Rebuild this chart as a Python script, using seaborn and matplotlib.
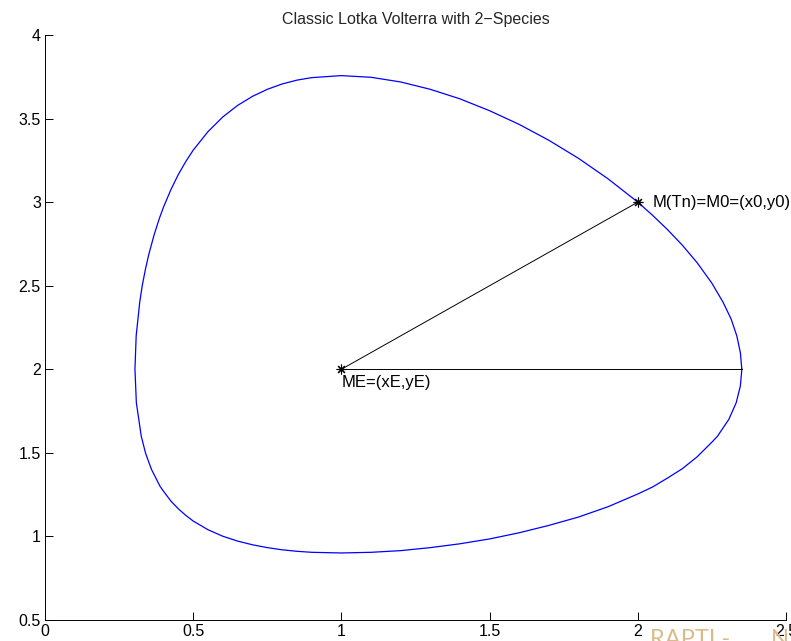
import matplotlib
matplotlib.use("Agg")
import matplotlib.pyplot as plt
import seaborn as sns
import pandas as pd

# Closed predator-prey orbit around the equilibrium (prey x, predator y)
orbit_x = [2.351, 2.346, 2.334, 2.315, 2.288, 2.25, 2.2, 2.15, 2.1, 2.05, 2.0,
           1.9, 1.8, 1.7, 1.6, 1.5, 1.4, 1.3, 1.2, 1.1, 1.0, 0.9, 0.85, 0.8,
           0.75, 0.7, 0.65, 0.6, 0.55, 0.5, 0.475, 0.45, 0.425, 0.4, 0.3853,
           0.3674, 0.35, 0.339, 0.328, 0.3195, 0.3076, 0.3035, 0.3082, 0.3247,
           0.339, 0.35, 0.3595, 0.388, 0.4, 0.425, 0.45, 0.475, 0.5, 0.55, 0.6,
           0.65, 0.7, 0.75, 0.8, 0.85, 0.9, 1.0, 1.1, 1.2, 1.3, 1.4, 1.5, 1.6,
           1.7, 1.8, 1.9, 2.0, 2.05, 2.1, 2.15, 2.2, 2.25, 2.269, 2.307, 2.332,
           2.346, 2.351]
orbit_y = [2.0, 2.1, 2.2, 2.3, 2.4, 2.515, 2.638, 2.743, 2.836, 2.921, 3.0,
           3.139, 3.262, 3.37, 3.465, 3.547, 3.618, 3.675, 3.719, 3.747, 3.757,
           3.745, 3.73, 3.707, 3.675, 3.633, 3.579, 3.51, 3.422, 3.311, 3.243,
           3.166, 3.076, 2.971, 2.9, 2.8, 2.686, 2.6, 2.5, 2.4, 2.2, 2.0, 1.8,
           1.6, 1.5, 1.445, 1.4, 1.3, 1.27, 1.211, 1.165, 1.126, 1.092, 1.04,
           1.001, 0.972, 0.95, 0.933, 0.92, 0.911, 0.905, 0.901, 0.905, 0.915,
           0.933, 0.956, 0.985, 1.022, 1.066, 1.116, 1.178, 1.254, 1.296, 1.349,
           1.405, 1.476, 1.564, 1.6, 1.7, 1.8, 1.9, 2.0]

# Equilibrium point ME and starting point M0
equilibrium = (1.0, 2.0)
start_point = (2.0, 3.0)
# Orbit's rightmost crossing of the horizontal through ME
right_crossing = (2.351, 2.0)

x_ticks = [0, 0.5, 1, 1.5, 2, 2.5]
y_ticks = [0.5, 1, 1.5, 2, 2.5, 3, 3.5, 4]
x_tick_labels = ["0", "0.5", "1", "1.5", "2", "2.5"]
y_tick_labels = ["0.5", "1", "1.5", "2", "2.5", "3", "3.5", "4"]

sns.set_theme(style="white")
plt.rcParams["font.family"] = ["Liberation Sans", "DejaVu Sans"]

fig = plt.figure(figsize=(7.91, 6.41), dpi=100)
ax = fig.add_axes([45 / 791, 21 / 641, 741 / 791, 585 / 641])

orbit = pd.DataFrame({"x": orbit_x, "y": orbit_y})
sns.lineplot(data=orbit, x="x", y="y", sort=False, estimator=None,
             color=(0, 0, 1), linewidth=0.9, ax=ax)

# Radius ME -> M0 and horizontal ME -> orbit
seg1 = pd.DataFrame({"x": [equilibrium[0], start_point[0]],
                     "y": [equilibrium[1], start_point[1]]})
seg2 = pd.DataFrame({"x": [equilibrium[0], right_crossing[0]],
                     "y": [equilibrium[1], right_crossing[1]]})
sns.lineplot(data=seg1, x="x", y="y", sort=False, estimator=None,
             color="black", linewidth=0.7, ax=ax)
sns.lineplot(data=seg2, x="x", y="y", sort=False, estimator=None,
             color="black", linewidth=0.7, ax=ax)

pts = pd.DataFrame({"x": [equilibrium[0], start_point[0]],
                    "y": [equilibrium[1], start_point[1]]})
ax.plot(pts["x"], pts["y"], linestyle="none", marker=(8, 2, 0),
        markersize=7, markeredgewidth=0.8, color="black")

ax.text(start_point[0] + 0.05, start_point[1], "M(Tn)=M0=(x0,y0)",
        fontsize=12, va="center", ha="left", color="black")
ax.text(equilibrium[0], equilibrium[1] - 0.035, "ME=(xE,yE)",
        fontsize=12, va="top", ha="left", color="black")

ax.set_xlim(0, 2.5)
ax.set_ylim(0.5, 4)
ax.set_xticks(x_ticks)
ax.set_xticklabels(x_tick_labels)
ax.set_yticks(y_ticks)
ax.set_yticklabels(y_tick_labels)
ax.set_xlabel("")
ax.set_ylabel("")
ax.set_title("Classic Lotka Volterra with 2\u2212Species", fontsize=11.5, pad=8)

for side in ["top", "right"]:
    ax.spines[side].set_visible(False)
for side in ["left", "bottom"]:
    ax.spines[side].set_color("black")
    ax.spines[side].set_linewidth(0.7)
ax.tick_params(axis="both", direction="in", length=6, width=0.7,
               labelsize=11.5, colors="black", left=True, bottom=True, pad=3)

fig.text(650 / 791, 1 - 646 / 641, "RAPTI -", color="#dcbb8a",
         fontsize=17, family="Lato", ha="left", va="baseline")
fig.text(771 / 791, 1 - 646 / 641, "N", color="#dcbb8a",
         fontsize=17, family="Lato", ha="left", va="baseline")

fig.savefig("out.png", dpi=100, facecolor="white")
